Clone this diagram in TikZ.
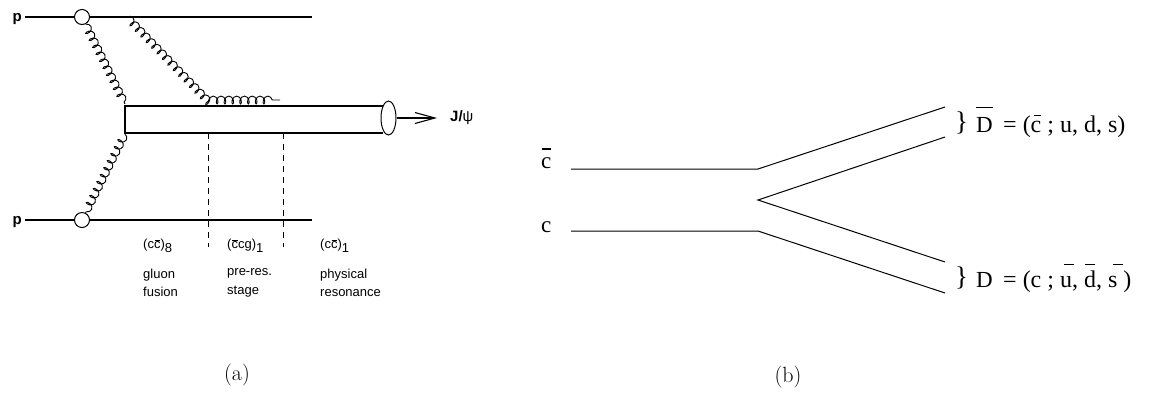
\documentclass[tikz,border=0pt]{standalone}
\usepackage{fontspec}
\newfontfamily\helv{Liberation Sans}
\newfontfamily\timesf{Liberation Serif}
\usetikzlibrary{decorations.pathmorphing,arrows.meta,shapes.geometric}
% letter #1 with a bar: offset #2, raise #3, width #4
\newcommand\ovr[4]{\leavevmode\rlap{\hspace*{#2}\rule[#3]{#4}{0.055em}}#1}
\newcommand\sbs[1]{\raisebox{-0.33em}{#1}}
\begin{document}
\begin{tikzpicture}[x=1pt,y=-1pt,
  fline/.style={line width=1.2pt},
  bline/.style={line width=1pt},
  gluon/.style={line width=0.9pt, decorate,
    decoration={coil, amplitude=3.9pt, segment length=7.8pt, aspect=0.65}},
  vtx/.style={circle, draw, fill=white, line width=1pt, minimum size=15pt, inner sep=0pt},
  dsh/.style={line width=0.9pt, dash pattern=on 6pt off 5pt},
  lab/.style={font=\helv\fontsize{13}{18.5}\selectfont, anchor=west, align=left, inner sep=0pt},
  plab/.style={font=\helv\bfseries\fontsize{15}{15}\selectfont, inner sep=0pt},
  rt/.style={font=\timesf\fontsize{23}{23}\selectfont, inner sep=0pt, anchor=base west},
  eqt/.style={rt, font=\timesf\fontsize{24}{24}\selectfont},
  caplbl/.style={font=\fontsize{22}{22}\selectfont, inner sep=0pt},
]
\useasboundingbox (0,0) rectangle (1153,392);

% ---------------- (a) ----------------
\coordinate (pTL) at (25,17);  \coordinate (pTR) at (312,17);
\coordinate (pBL) at (25,220); \coordinate (pBR) at (312,220);
\coordinate (T1) at (125,106); \coordinate (T2) at (383.2,106);
\coordinate (B1) at (125,133); \coordinate (B2) at (383.2,133);
\coordinate (g1e) at (125,104);
\coordinate (g2s) at (127,17);
\coordinate (g2k) at (207,100);
\coordinate (g2e) at (280,100);
\coordinate (g3s) at (125,134);
\coordinate (d1t) at (208,133); \coordinate (d1b) at (208,247);
\coordinate (d2t) at (283,133); \coordinate (d2b) at (283,247);
\coordinate (arrE) at (437,118);

\node[plab, anchor=east] (p1) at (22,19) {p};
\node[plab, anchor=east] (p2) at (22,222) {p};

\draw[fline] (pTL) -- (pTR);
\draw[fline] (pBL) -- (pBR);

\node[vtx] (vt) at (82,17) {};
\node[vtx] (vb) at (82,220) {};

\draw[gluon] (vt) -- (g1e);
\draw[gluon] (g2s) -- (g2k) -- (g2e);
\draw[gluon] (g3s) -- (vb);

\draw[fline] (T2) -- (T1) -- (B1) -- (B2);
\draw[dsh] (d1t) -- (d1b);
\draw[dsh] (d2t) -- (d2b);

\node[ellipse, draw, fill=white, line width=1pt, minimum width=15pt,
      minimum height=34pt, inner sep=0pt] (ell) at (388.5,118) {};
\draw[fline, -{Straight Barb[length=20pt,width=11pt,line width=1.1pt]}] (ell) -- (arrE);
\node[plab, anchor=west] (jpsi) at (450,118) {J/\mdseries ψ};

\node[lab] (l8) at (143,246) {(c\ovr{c}{0.04em}{0.62em}{0.42em})\sbs{8}};
\node[lab] (l1a) at (227,246) {(\ovr{c}{0.04em}{0.62em}{0.42em}cg)\sbs{1}};
\node[lab] (l1b) at (320,246) {(c\ovr{c}{0.04em}{0.62em}{0.42em})\sbs{1}};
\node[lab] (t1) at (143,283) {gluon\\fusion};
\node[lab] (t2) at (227,283) {pre-res.\\stage};
\node[lab] (t3) at (320,283) {physical\\resonance};

\node[caplbl] (capa) at (237,375) {(a)};

% ---------------- (b) ----------------
\coordinate (cbL) at (571,169); \coordinate (cbR) at (758,169);
\coordinate (cL) at (571,231);  \coordinate (cR) at (758,231);
\coordinate (vx) at (758,200);
\coordinate (u1) at (945,107);  \coordinate (u2) at (945,137);
\coordinate (l1) at (945,262);  \coordinate (l2) at (945,293);

\draw[bline] (cbL) -- (cbR) -- (u1);
\draw[bline] (u2) -- (vx) -- (l1);
\draw[bline] (cL) -- (cR) -- (l2);

\node[rt] (cb) at (541,168) {\ovr{c}{0.05em}{0.8em}{0.36em}};
\node[rt] (cc) at (541,232) {c};

\node[rt, font=\timesf\fontsize{27}{27}\selectfont] (br1) at (955,130) {\}};
\node[rt] (Db) at (976,132) {\ovr{D}{0em}{1.05em}{0.72em}};
\node[eqt] (eq1) at (1003,132) {= (\ovr{c}{0.12em}{0.65em}{0.3em} ; u, d, s)};

\node[rt, font=\timesf\fontsize{27}{27}\selectfont] (br2) at (955,285) {\}};
\node[rt] (Dd) at (976,287) {D};
\node[eqt] (eq2) at (1003,287) {= (c ; \ovr{u}{0.18em}{0.92em}{0.42em}, \ovr{d}{0.05em}{0.92em}{0.42em}, \ovr{s}{0.22em}{0.92em}{0.42em}\ )};

\node[caplbl] (capb) at (788,377) {(b)};
\end{tikzpicture}
\end{document}
